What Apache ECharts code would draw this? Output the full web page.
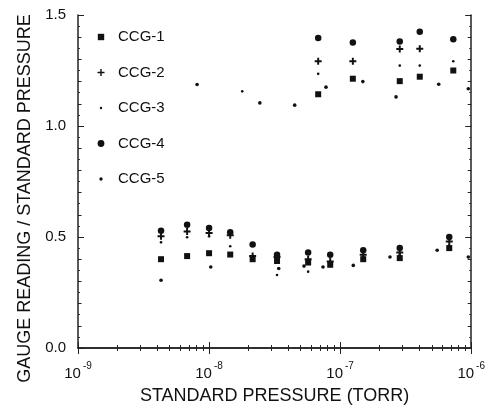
<!DOCTYPE html>
<html><head><meta charset="utf-8">
<script src="https://cdn.jsdelivr.net/npm/echarts@6/dist/echarts.min.js"></script>
<style>html,body{margin:0;padding:0;background:#fff}#c{width:488px;height:410px}</style>
</head><body><div id="c"></div>
<script>
// ---- data (standard pressure in Torr, gauge reading / standard pressure) ----
const seriesNames = ['CCG-1', 'CCG-2', 'CCG-3', 'CCG-4', 'CCG-5'];
const ccg1 = [[4.3e-9,0.400],[6.8e-9,0.414],[1.0e-8,0.427],[1.45e-8,0.421],[2.15e-8,0.400],[3.3e-8,0.392],[5.7e-8,0.385],[8.4e-8,0.375],[1.5e-7,0.400],[2.85e-7,0.405],[6.8e-7,0.450],
              [6.8e-8,1.143],[1.25e-7,1.213],[2.85e-7,1.202],[4.05e-7,1.222],[7.3e-7,1.250]];
const ccg2 = [[4.3e-9,0.503],[6.8e-9,0.525],[1.0e-8,0.518],[1.45e-8,0.508],[2.15e-8,0.414],[3.3e-8,0.410],[5.7e-8,0.400],[8.4e-8,0.390],[1.5e-7,0.420],[2.85e-7,0.430],[6.8e-7,0.480],
              [6.8e-8,1.292],[1.25e-7,1.292],[2.85e-7,1.347],[4.05e-7,1.348]];
const ccg3 = [[4.3e-9,0.476],[6.8e-9,0.499],[1.0e-8,0.503],[1.45e-8,0.458],[2.15e-8,0.405],[3.3e-8,0.329],[5.7e-8,0.344],[8.4e-8,0.369],[1.5e-7,0.410],[2.85e-7,0.420],[6.8e-7,0.460],
              [1.79e-8,1.156],[6.8e-8,1.235],[2.85e-7,1.272],[4.05e-7,1.272],[7.3e-7,1.292]];
const ccg4 = [[4.3e-9,0.528],[6.8e-9,0.555],[1.0e-8,0.540],[1.45e-8,0.521],[2.15e-8,0.466],[3.3e-8,0.420],[5.7e-8,0.430],[8.4e-8,0.420],[1.5e-7,0.440],[2.85e-7,0.450],[6.8e-7,0.500],
              [6.8e-8,1.396],[1.25e-7,1.376],[2.85e-7,1.381],[4.05e-7,1.425],[7.3e-7,1.391]];
const ccg5 = [[4.3e-9,0.305],[1.03e-8,0.365],[3.4e-8,0.358],[5.3e-8,0.369],[7.4e-8,0.365],[1.26e-7,0.372],[2.4e-7,0.410],[5.5e-7,0.440],[9.5e-7,0.410],
              [8.1e-9,1.187],[2.44e-8,1.104],[4.5e-8,1.094],[7.8e-8,1.175],[1.49e-7,1.200],[2.67e-7,1.131],[5.65e-7,1.188],[9.5e-7,1.168]];
const xMin = 1e-9, xMax = 1e-6;
const yMin = 0, yMax = 1.5;
const yTickLabels = ['0.0', '0.5', '1.0', '1.5'];
const xMinorTicks = [];
[1e-9, 1e-8, 1e-7].forEach(d => { for (let k = 2; k <= 9; k++) xMinorTicks.push(k * d); });

// ---- styling ----
const FONT = '"Liberation Sans", Arial, Helvetica, sans-serif';
const INK = '#111';
const PLUS = 'path://M3.6,0H6.4V3.6H10V6.4H6.4V10H3.6V6.4H0V3.6H3.6Z';
const icons = [
  'path://M0,0M10,10M1.8,1.8H8.2V8.2H1.8Z',
  'path://M0,0M10,10M4.3,1.5H5.7V4.3H8.5V5.7H5.7V8.5H4.3V5.7H1.5V4.3H4.3Z',
  'path://M0,0M10,10M5,3.8A1.2,1.2,0,1,1,5,6.2A1.2,1.2,0,1,1,5,3.8Z',
  'path://M0,0M10,10M5,1.6A3.4,3.4,0,1,1,5,8.4A3.4,3.4,0,1,1,5,1.6Z',
  'path://M0,0M10,10M5,3.3A1.7,1.7,0,1,1,5,6.7A1.7,1.7,0,1,1,5,3.3Z'
];
const symbols = ['rect', PLUS, 'circle', 'circle', 'circle'];
const sizes = [6, 7, 2.6, 6.5, 3.6];
const datas = [ccg1, ccg2, ccg3, ccg4, ccg5];

const axisLineStyle = { color: '#222', width: 1.5 };
function xAx(pos, major, showLine, showLabel) {
  const a = {
    type: 'log', logBase: 10, min: xMin, max: xMax, position: pos,
    axisLine: { show: showLine, lineStyle: axisLineStyle },
    axisTick: { show: true, inside: true, length: major ? 6 : 3, lineStyle: { color: '#222', width: 1 } },
    splitLine: { show: false }, minorTick: { show: false },
    axisLabel: { show: false }
  };
  if (!major) a.axisTick.customValues = xMinorTicks;
  if (showLabel) {
    a.axisLabel = {
      show: true, margin: 13,
      formatter: v => '{b|10}{e|' + Math.round(Math.log10(v)) + '}',
      rich: {
        b: { fontSize: 15, fontFamily: FONT, color: INK, lineHeight: 20, verticalAlign: 'bottom' },
        e: { fontSize: 10, fontFamily: FONT, color: INK, lineHeight: 20, verticalAlign: 'top', padding: [0, 0, 0, 2] }
      }
    };
    a.name = 'STANDARD PRESSURE (TORR)';
    a.nameLocation = 'middle';
    a.nameGap = 39;
    a.nameTextStyle = { fontSize: 18, fontFamily: FONT, color: INK };
  }
  return a;
}
function yAx(pos, major, showLine, showLabel) {
  const a = {
    type: 'value', min: yMin, max: yMax, interval: major ? 0.5 : 0.1, position: pos,
    axisLine: { show: showLine, lineStyle: axisLineStyle },
    axisTick: { show: true, inside: true, length: major ? 6 : 3.5, lineStyle: { color: '#222', width: 1 } },
    minorTick: { show: !major, splitNumber: 2, length: 2, lineStyle: { color: '#333', width: 1 } },
    splitLine: { show: false },
    axisLabel: { show: false }
  };
  if (showLabel) {
    a.axisLabel = {
      show: true, margin: 12, fontSize: 15, fontFamily: FONT, color: INK,
      formatter: v => yTickLabels[Math.round(v / 0.5)]
    };
    a.name = 'GAUGE READING / STANDARD PRESSURE';
    a.nameLocation = 'middle';
    a.nameRotate = 90;
    a.nameGap = 37;
    a.nameTextStyle = { fontSize: 18, fontFamily: FONT, color: INK, padding: [0, 34, 0, 0] };
  }
  return a;
}

const option = {
  backgroundColor: '#fff',
  animation: false,
  grid: { left: 78, right: 16, top: 15, height: 336, containLabel: false },
  xAxis: [xAx('bottom', true, true, true), xAx('bottom', false, false, false), xAx('top', true, true, false), xAx('top', false, false, false)],
  yAxis: [yAx('left', true, true, true), yAx('left', false, false, false), yAx('right', true, true, false), yAx('right', false, false, false)],
  legend: {
    orient: 'vertical', left: 91, top: 24, itemWidth: 10, itemHeight: 10, itemGap: 19.5,
    selectedMode: false,
    textStyle: { fontSize: 15, fontFamily: FONT, color: INK, lineHeight: 16, padding: [0, 0, 0, 7] },
    data: seriesNames.map((n, i) => ({ name: n, icon: icons[i] }))
  },
  series: seriesNames.map((n, i) => ({
    name: n, type: 'scatter', xAxisIndex: 0, yAxisIndex: 0,
    symbol: symbols[i], symbolSize: sizes[i],
    itemStyle: { color: INK, opacity: 1, borderWidth: 0 },
    data: datas[i]
  }))
};
const chart = echarts.init(document.getElementById('c'), null, { renderer: 'canvas' });
chart.setOption(option);
</script></body></html>
